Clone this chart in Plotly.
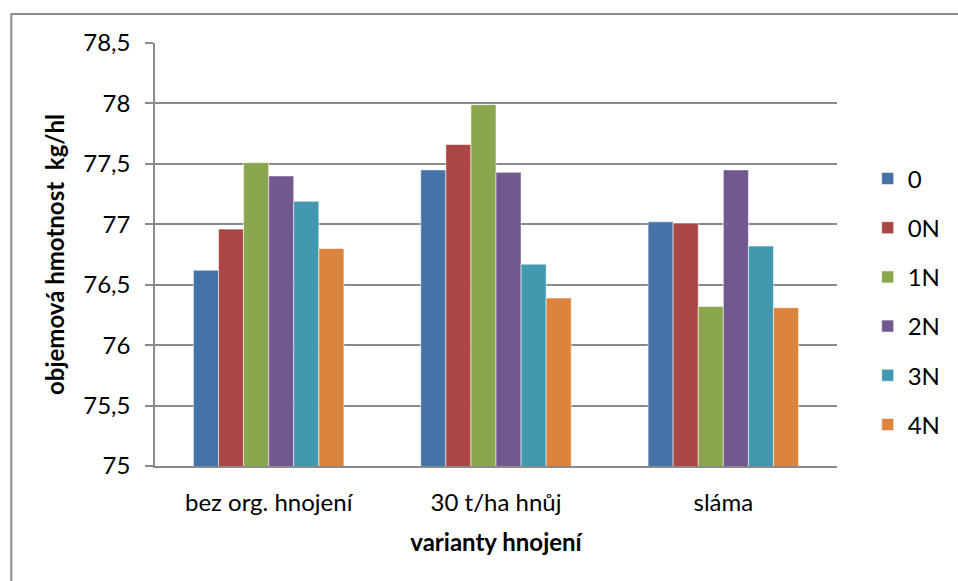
import plotly.graph_objects as go

# Bulk density of grain by fertilisation variant and nitrogen level
categories = ["bez org. hnojení", "30 t/ha hnůj", "sláma"]
series_names = ["0", "0N", "1N", "2N", "3N", "4N"]
values = {
    "0":  [76.62, 77.45, 77.02],
    "0N": [76.96, 77.66, 77.01],
    "1N": [77.51, 77.99, 76.32],
    "2N": [77.40, 77.43, 77.45],
    "3N": [77.19, 76.67, 76.82],
    "4N": [76.80, 76.39, 76.31],
}
colors = ["#4572A7", "#AA4643", "#89A54E", "#71588F", "#4198AF", "#DB843D"]
y_ticks = [75, 75.5, 76, 76.5, 77, 77.5, 78, 78.5]
y_tick_text = ["75", "75,5", "76", "76,5", "77", "77,5", "78", "78,5"]

FONT = "Lato"
FS = 24
GRID = "#8a8a8a"

fig = go.Figure()
for name, color in zip(series_names, colors):
    fig.add_trace(go.Bar(
        name=name,
        x=categories,
        y=values[name],
        base=0,
        marker=dict(color=color, line=dict(color="rgba(255,255,255,0.55)", width=1)),
        legendgroup=name,
    ))

W, H = 958, 581
L, R, T, B = 155, 110, 43, 115

fig.update_layout(
    width=W, height=H,
    margin=dict(l=L, r=R, t=T, b=B),
    paper_bgcolor="white",
    plot_bgcolor="white",
    barmode="group",
    bargap=0.338,
    bargroupgap=0,
    font=dict(family=FONT, size=FS, color="black"),
    showlegend=True,
    legend=dict(
        x=1.045, xanchor="left",
        y=0.388, yanchor="middle",
        font=dict(family=FONT, size=FS, color="black"),
        traceorder="grouped",
        tracegroupgap=15,
        bgcolor="rgba(0,0,0,0)",
    ),
    xaxis=dict(
        showgrid=False,
        showline=True, linecolor=GRID, linewidth=1.5,
        ticks="",
        ticklabelstandoff=14,
        tickfont=dict(family=FONT, size=FS),
        title=dict(text="<b>varianty hnojení</b>", font=dict(family=FONT, size=FS), standoff=20),
    ),
    yaxis=dict(
        range=[75, 78.5],
        tickvals=y_ticks, ticktext=y_tick_text,
        showgrid=True, gridcolor=GRID, gridwidth=1.5,
        showline=True, linecolor=GRID, linewidth=1.5,
        ticks="outside", ticklen=8, tickcolor=GRID, tickwidth=1.5,
        ticklabelstandoff=10,
        tickfont=dict(family=FONT, size=FS),
        zeroline=False,
        title=dict(text="<b>objemová hmotnost  kg/hl</b>", font=dict(family=FONT, size=FS), standoff=12),
    ),
)

# Outer chart frame (top and left edges visible, rest runs past the page)
pw, ph = W - L - R, H - T - B
fig.add_shape(
    type="rect", xref="paper", yref="paper",
    x0=(9 - L) / pw, x1=(W + 20 - L) / pw,
    y0=(T + ph - (H + 20)) / ph, y1=(T + ph - 14) / ph,
    line=dict(color="#8c8c8c", width=2), fillcolor="rgba(0,0,0,0)", layer="below",
)

fig.write_html("out.html")
